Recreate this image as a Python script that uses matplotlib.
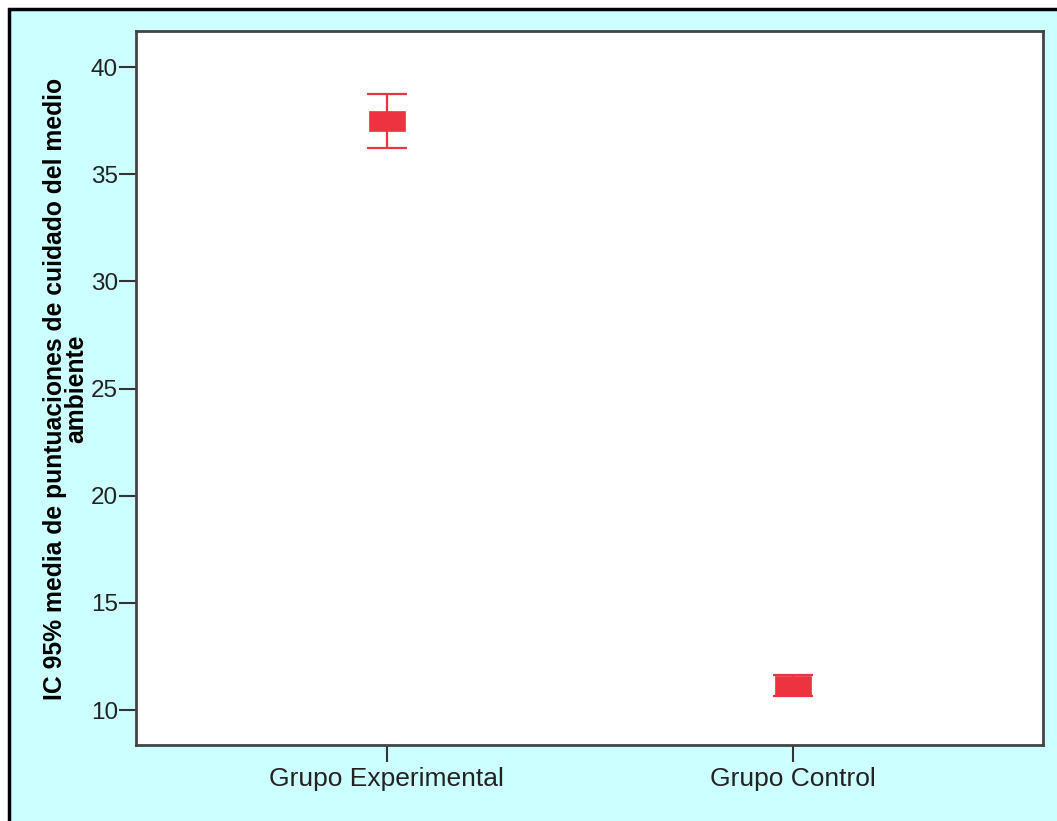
import matplotlib
matplotlib.use('Agg')
from matplotlib import pyplot as plt
from matplotlib.patches import Rectangle

# datos (media e IC 95%)
grupos = ['Grupo Experimental', 'Grupo Control']
medias = [37.47, 11.14]
ic_inf = [36.22, 10.66]
ic_sup = [38.73, 11.63]
y_ticks = [10, 15, 20, 25, 30, 35, 40]

rojo = '#EE3340'
fondo = '#CCFFFF'

fig = plt.figure(figsize=(10.57, 8.21), dpi=100)
fig.patch.set_facecolor('white')
# marco exterior negro con fondo cian
fig.patches.append(Rectangle((9 / 1057, -0.05), 1.1, 1 - 9 / 821 + 0.05,
                             transform=fig.transFigure, facecolor=fondo,
                             edgecolor='black', linewidth=2.5, zorder=-5))

ax = fig.add_axes([136 / 1057, 1 - 745 / 821, (1043 - 136) / 1057, (745 - 31) / 821])
ax.set_facecolor('white')

x = [1, 2]
err_low = [m - l for m, l in zip(medias, ic_inf)]
err_up = [u - m for m, u in zip(medias, ic_sup)]
ax.errorbar(x, medias, yerr=[err_low, err_up], fmt='none', ecolor=rojo,
            elinewidth=1.6, capsize=14.7, capthick=1.6, zorder=3)
rect = [(-1, -0.53), (1, -0.53), (1, 0.53), (-1, 0.53), (-1, -0.53)]
ax.plot(x, medias, linestyle='none', marker=rect, markersize=26,
        markerfacecolor=rojo, markeredgecolor=rojo, markeredgewidth=0.5, zorder=4)

ax.set_xlim(0.382, 2.616)
ax.set_ylim(8.37, 41.68)
ax.set_yticks(y_ticks)
ax.set_yticklabels([str(v) for v in y_ticks],
                   fontfamily=['Liberation Sans Narrow', 'Liberation Sans', 'DejaVu Sans'],
                   fontsize=17.5, color='#222222')
ax.set_xticks(x)
ax.set_xticklabels(grupos, fontfamily=['Liberation Sans', 'DejaVu Sans'],
                   fontsize=19, color='#222222')
ax.tick_params(axis='both', direction='out', length=12, width=1.5, color='#333333')
ax.tick_params(axis='y', pad=1)
ax.tick_params(axis='x', pad=4)

for s in ax.spines.values():
    s.set_color('#444444')
    s.set_linewidth(2)

fig.text(66 / 1057, 1 - 389 / 821,
         'IC 95% media de puntuaciones de cuidado del medio\nambiente',
         rotation=90, ha='center', va='center', multialignment='center',
         fontsize=17.8, fontweight='bold', linespacing=0.85,
         fontfamily=['Liberation Sans', 'DejaVu Sans'])

fig.savefig('out.png', dpi=100)
